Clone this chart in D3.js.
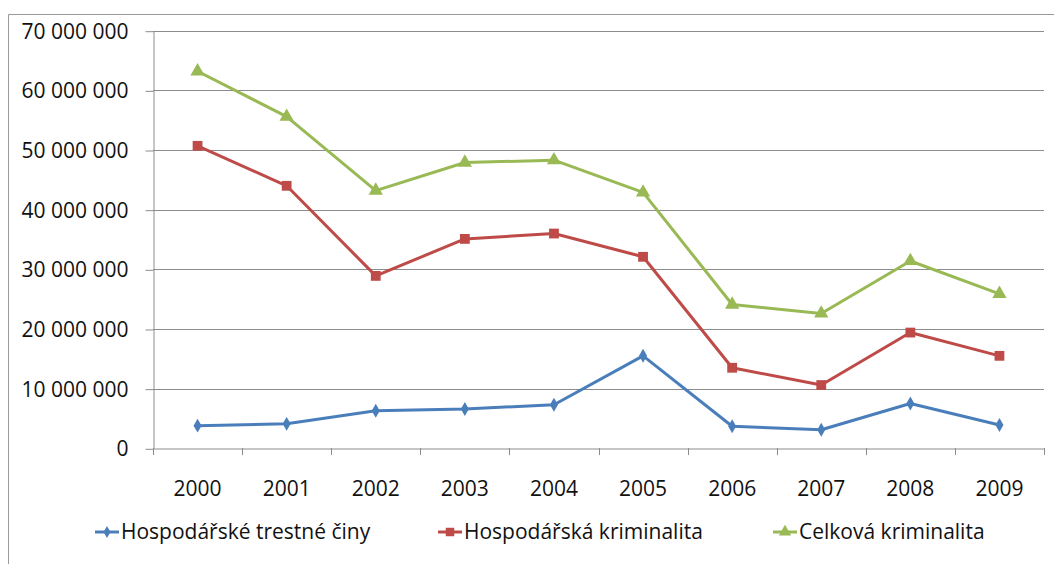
<!DOCTYPE html>
<html>
<head>
<meta charset="utf-8">
<script src="https://cdn.jsdelivr.net/npm/d3@7"></script>
<style>
  body { margin: 0; background: #fff; }
  text { font-family: "Open Sans", sans-serif; fill: #111; }
</style>
</head>
<body>
<div id="chart"></div>
<script>
// Data
const years = ['2000', '2001', '2002', '2003', '2004', '2005', '2006', '2007', '2008', '2009'];
const hospodarskeTC = [3.8, 4.1, 6.3, 6.6, 7.3, 15.5, 3.7, 3.1, 7.5, 3.9].map(v => v * 1e6);
const hospodarskaKrim = [50.7, 44.0, 28.9, 35.1, 36.0, 32.1, 13.5, 10.6, 19.4, 15.5].map(v => v * 1e6);
const celkovaKrim = [63.2, 55.6, 43.2, 47.9, 48.3, 42.9, 24.1, 22.6, 31.4, 25.9].map(v => v * 1e6);
const yTicks = [0, 10e6, 20e6, 30e6, 40e6, 50e6, 60e6, 70e6];

const series = [
  { name: 'Hospodářské trestné činy', values: hospodarskeTC, color: '#4a7ebb', marker: 'diamond' },
  { name: 'Hospodářská kriminalita', values: hospodarskaKrim, color: '#be4b48', marker: 'square' },
  { name: 'Celková kriminalita', values: celkovaKrim, color: '#98b954', marker: 'triangle' }
];

const width = 1054;
const height = 564;
const plot = { left: 153, right: 1044, top: 30.7, bottom: 448.3 };

const svg = d3.select('#chart')
  .append('svg')
  .attr('width', width)
  .attr('height', height);

// outer frame (top + left only visible)
svg.append('path')
  .attr('d', `M8.5,${height} V14.5 H${width}`)
  .attr('fill', 'none')
  .attr('stroke', '#9a9a9a')
  .attr('stroke-width', 1);

const x = d3.scaleBand()
  .domain(years)
  .range([plot.left, plot.right])
  .padding(0);

const y = d3.scaleLinear()
  .domain([0, 70e6])
  .range([plot.bottom, plot.top]);

const fmt = v => d3.format(',')(v).replace(/,/g, ' ');

// gridlines
svg.append('g')
  .selectAll('line')
  .data(yTicks.filter(d => d > 0))
  .enter()
  .append('line')
  .attr('x1', plot.left)
  .attr('x2', plot.right)
  .attr('y1', d => Math.round(y(d)) + 0.5)
  .attr('y2', d => Math.round(y(d)) + 0.5)
  .attr('stroke', '#8c8c8c')
  .attr('stroke-width', 1);

// y axis
const yAxis = svg.append('g')
  .attr('transform', `translate(${plot.left + 0.5},0)`)
  .call(d3.axisLeft(y).tickValues(yTicks).tickSize(8).tickSizeOuter(0).tickFormat(fmt));
yAxis.select('.domain').attr('stroke', '#8c8c8c');
yAxis.selectAll('.tick line').attr('stroke', '#8c8c8c')
  .attr('transform', 'translate(0,0.5)');
yAxis.selectAll('.tick text')
  .attr('x', -25)
  .attr('dy', '0.36em')
  .style('font-size', '21px')
  .style('font-family', '"Open Sans", sans-serif')
  .attr('fill', '#111');

// x axis
const xAxis = svg.append('g')
  .attr('transform', `translate(0,${Math.round(plot.bottom) + 0.5})`)
  .call(d3.axisBottom(x).tickSize(0).tickSizeOuter(0));
xAxis.select('.domain').attr('stroke', '#8c8c8c');
xAxis.selectAll('.tick text')
  .attr('y', 47)
  .attr('dy', 0)
  .style('font-size', '21px')
  .style('font-family', '"Open Sans", sans-serif')
  .attr('fill', '#111');

// x tick marks at band boundaries
svg.append('g')
  .selectAll('line')
  .data(years.concat(['end']))
  .enter()
  .append('line')
  .attr('x1', d => Math.round(d === 'end' ? plot.right : x(d)) + 0.5)
  .attr('x2', d => Math.round(d === 'end' ? plot.right : x(d)) + 0.5)
  .attr('y1', Math.round(plot.bottom))
  .attr('y2', Math.round(plot.bottom) + 7)
  .attr('stroke', '#8c8c8c');

const cx = d => x(d) + x.bandwidth() / 2;

const markerPath = (type, s) => {
  if (type === 'diamond') return d3.symbol(d3.symbolDiamond, s * 7)();
  if (type === 'square') return d3.symbol(d3.symbolSquare, s * 12)();
  return d3.symbol(d3.symbolTriangle, s * 11)();
};

const line = d3.line()
  .x((d, i) => cx(years[i]))
  .y(d => y(d));

series.forEach(s => {
  const g = svg.append('g');
  g.append('path')
    .datum(s.values)
    .attr('d', line)
    .attr('fill', 'none')
    .attr('stroke', s.color)
    .attr('stroke-width', 3)
    .attr('stroke-linejoin', 'round');
  g.selectAll('path.mk')
    .data(s.values)
    .enter()
    .append('path')
    .attr('class', 'mk')
    .attr('d', markerPath(s.marker, 8))
    .attr('transform', (d, i) => `translate(${cx(years[i])},${y(d)})`)
    .attr('fill', s.color);
});

// legend
const legendX = [95, 438, 773];
const legendY = 532;
const legend = svg.append('g')
  .selectAll('g')
  .data(series)
  .enter()
  .append('g')
  .attr('transform', (d, i) => `translate(${legendX[i]},${legendY})`);

legend.append('line')
  .attr('x1', 0)
  .attr('x2', 24)
  .attr('stroke', d => d.color)
  .attr('stroke-width', 3);

legend.append('path')
  .attr('d', d => markerPath(d.marker, 6))
  .attr('transform', 'translate(12,0)')
  .attr('fill', d => d.color);

legend.append('text')
  .attr('x', 26)
  .attr('y', 7)
  .style('font-size', '21px')
  .text(d => d.name);
</script>
</body>
</html>
